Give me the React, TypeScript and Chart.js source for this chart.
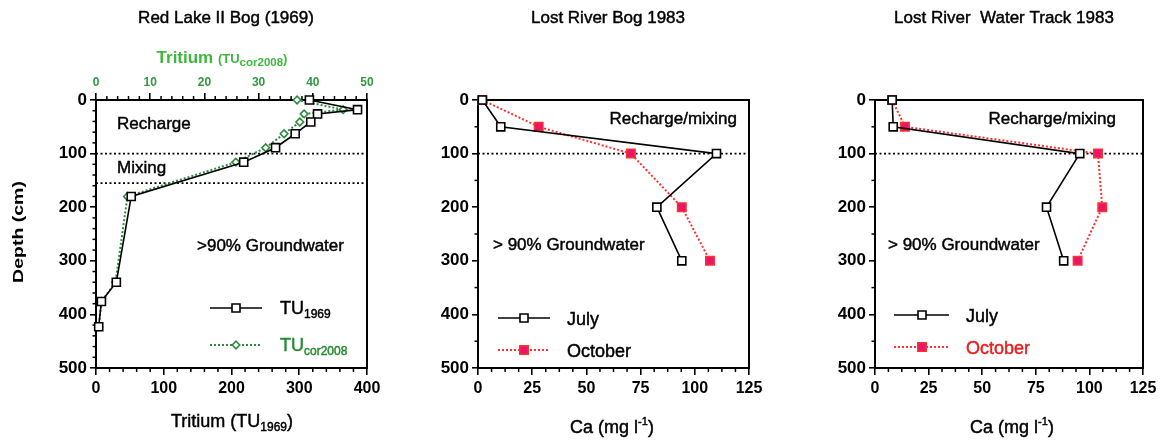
import React, { useEffect, useRef } from 'react';
import { Chart, registerables } from 'chart.js';
Chart.register(...registerables);

const FONT = '"Liberation Sans", Arial, Helvetica, sans-serif';

// ---------- Data ----------
// Panel 1: Red Lake II Bog (1969)
const redLakeDepth = [0, 18, 26, 41, 63, 89, 116, 180, 340, 376, 423];
const redLakeTU1969 = [315, 386, 327, 317, 294, 265, 218, 52, 30, 8, 4];
const redLakeTUcor2008 = [37.1, 45.6, 38.4, 37.6, 34.7, 31.3, 25.8, 5.8, 3.6, 1.0, 0.5];

// Panels 2 and 3: Ca profiles
const caDepth = [0, 50, 100, 200, 300];
const lostRiverBogJuly = [2, 10.5, 110, 82.5, 94];
const lostRiverBogOctober = [2, 28, 70.5, 94, 107];
const waterTrackJuly = [8, 8.5, 95.5, 80, 88];
const waterTrackOctober = [8, 14, 104, 106, 94.5];

// Tick settings
const depthTicks = [0, 100, 200, 300, 400, 500];
const tritiumTicks = [0, 100, 200, 300, 400];
const tritiumCorTicks = [0, 10, 20, 30, 40, 50];
const caTicks = [0, 25, 50, 75, 100, 125];

// ---------- Styles ----------
const BLACK = '#000000';
const GREEN_LINE = '#2e8b3e';
const GREEN_TITLE = '#3db83d';
const GREEN_TICK = '#2f9a3f';
const RED_LINE = '#ff3030';
const RED_FILL = '#e8156b';
const RED_TEXT = '#e8201e';

type Part = { t: string; size: number; bold?: boolean; color?: string; dy?: number };

function drawRich(ctx: CanvasRenderingContext2D, x: number, y: number, parts: Part[], align: 'left' | 'center' | 'right' = 'left') {
  ctx.save();
  ctx.textBaseline = 'alphabetic';
  ctx.textAlign = 'left';
  let total = 0;
  const widths = parts.map((p) => {
    ctx.font = `${p.bold ? 'bold ' : ''}${p.size}px ${FONT}`;
    const w = ctx.measureText(p.t).width;
    total += w;
    return w;
  });
  let cx = align === 'left' ? x : align === 'center' ? x - total / 2 : x - total;
  parts.forEach((p, i) => {
    ctx.font = `${p.bold ? 'bold ' : ''}${p.size}px ${FONT}`;
    ctx.fillStyle = p.color || BLACK;
    ctx.fillText(p.t, cx, y + (p.dy || 0));
    if (!p.bold) {
      // slight emboldening to mimic the medium-weight lettering of the original
      ctx.strokeStyle = p.color || BLACK;
      ctx.lineWidth = 0.45;
      ctx.strokeText(p.t, cx, y + (p.dy || 0));
    }
    cx += widths[i];
  });
  ctx.restore();
}

type Marker = { style: 'square' | 'diamond'; size: number; fill: string; stroke: string; lw: number };
type LegendItem = {
  x1: number; x2: number; y: number; xm: number;
  color: string; width: number; dash: number[];
  marker: Marker; text: Part[]; tx: number; ty: number;
};
type TextItem = { x: number; y: number; parts: Part[]; align?: 'left' | 'center' | 'right' };
type MinorSpec = { id: string; step: number; major: number; side: 'bottom' | 'top' | 'left' };

type Decor = {
  minor: MinorSpec[];
  hlines: number[];
  texts: TextItem[];
  legend: LegendItem[];
  yTitle?: { x: number; y: number; text: string };
};

function drawMarker(ctx: CanvasRenderingContext2D, x: number, y: number, m: Marker) {
  ctx.save();
  ctx.beginPath();
  const h = m.size / 2;
  if (m.style === 'square') {
    ctx.rect(x - h, y - h, m.size, m.size);
  } else {
    ctx.moveTo(x, y - h);
    ctx.lineTo(x + h, y);
    ctx.lineTo(x, y + h);
    ctx.lineTo(x - h, y);
    ctx.closePath();
  }
  ctx.fillStyle = m.fill;
  ctx.fill();
  ctx.lineWidth = m.lw;
  ctx.strokeStyle = m.stroke;
  ctx.stroke();
  ctx.restore();
}

function makeDecor(d: Decor) {
  return {
    id: 'decor',
    beforeDatasetsDraw(chart: any) {
      const ctx: CanvasRenderingContext2D = chart.ctx;
      const a = chart.chartArea;
      ctx.save();
      // dotted horizontal boundaries
      ctx.strokeStyle = BLACK;
      ctx.lineWidth = 1.6;
      ctx.setLineDash([2, 2.5]);
      d.hlines.forEach((v) => {
        const py = chart.scales.y.getPixelForValue(v);
        ctx.beginPath();
        ctx.moveTo(a.left, py);
        ctx.lineTo(a.right, py);
        ctx.stroke();
      });
      ctx.setLineDash([]);
      // minor ticks
      ctx.lineWidth = 1.5;
      d.minor.forEach((m) => {
        const s = chart.scales[m.id];
        for (let v = s.min; v <= s.max + 1e-9; v += m.step) {
          const r = v / m.major;
          if (Math.abs(r - Math.round(r)) < 1e-6) continue;
          const p = s.getPixelForValue(v);
          ctx.beginPath();
          if (m.side === 'bottom') { ctx.moveTo(p, a.bottom); ctx.lineTo(p, a.bottom + 4); }
          else if (m.side === 'top') { ctx.moveTo(p, a.top); ctx.lineTo(p, a.top - 4); }
          else { ctx.moveTo(a.left, p); ctx.lineTo(a.left - 3.5, p); }
          ctx.stroke();
        }
      });
      // frame
      ctx.lineWidth = 2;
      ctx.strokeRect(a.left, a.top, a.right - a.left, a.bottom - a.top);
      ctx.restore();
    },
    afterDraw(chart: any) {
      const ctx: CanvasRenderingContext2D = chart.ctx;
      d.texts.forEach((t) => drawRich(ctx, t.x, t.y, t.parts, t.align || 'left'));
      d.legend.forEach((l) => {
        ctx.save();
        ctx.strokeStyle = l.color;
        ctx.lineWidth = l.width;
        ctx.setLineDash(l.dash);
        ctx.beginPath();
        ctx.moveTo(l.x1, l.y);
        ctx.lineTo(l.x2, l.y);
        ctx.stroke();
        ctx.restore();
        drawMarker(ctx, l.xm, l.y, l.marker);
        drawRich(ctx, l.tx, l.ty, l.text, 'left');
      });
      if (d.yTitle) {
        ctx.save();
        ctx.translate(d.yTitle.x, d.yTitle.y);
        ctx.rotate(-Math.PI / 2);
        ctx.scale(1.3, 1);
        ctx.font = `bold 15px ${FONT}`;
        ctx.fillStyle = BLACK;
        ctx.textAlign = 'center';
        ctx.textBaseline = 'middle';
        ctx.fillText(d.yTitle.text, 0, 0);
        ctx.restore();
      }
    },
  };
}

const SQUARE_OPEN: Marker = { style: 'square', size: 8, fill: '#ffffff', stroke: BLACK, lw: 1.6 };
const DIAMOND_OPEN: Marker = { style: 'diamond', size: 7.5, fill: '#ffffff', stroke: GREEN_LINE, lw: 1.6 };
const SQUARE_RED: Marker = { style: 'square', size: 8.5, fill: RED_FILL, stroke: RED_LINE, lw: 1.5 };

function pts(xs: number[], ys: number[]) {
  return xs.map((x, i) => ({ x, y: ys[i] }));
}

function blackSeries(label: string, xs: number[], ys: number[], extra: any = {}) {
  return {
    label,
    data: pts(xs, ys),
    showLine: true,
    borderColor: BLACK,
    borderWidth: 1.6,
    pointStyle: 'rect',
    pointRadius: 5.7,
    pointBackgroundColor: '#ffffff',
    pointBorderColor: BLACK,
    pointBorderWidth: 1.6,
    clip: false,
    ...extra,
  };
}

function redSeries(label: string, xs: number[], ys: number[]) {
  return {
    label,
    data: pts(xs, ys),
    showLine: true,
    borderColor: RED_LINE,
    borderWidth: 2,
    borderDash: [2, 2],
    pointStyle: 'rect',
    pointRadius: 6,
    pointBackgroundColor: RED_FILL,
    pointBorderColor: RED_LINE,
    pointBorderWidth: 1.5,
    clip: false,
  };
}

function yScale(width: number) {
  return {
    type: 'linear',
    position: 'left',
    reverse: true,
    min: 0,
    max: 500,
    afterBuildTicks: (s: any) => { s.ticks = depthTicks.map((v) => ({ value: v })); },
    ticks: { font: { family: FONT, size: 17, weight: 'bold' }, color: BLACK, padding: 3 },
    grid: { display: true, drawOnChartArea: false, color: BLACK, lineWidth: 1.6, tickLength: 6 },
    border: { display: false },
    afterFit: (s: any) => { s.width = width; },
  };
}

function xBottom(min: number, max: number, ticks: number[], height: number) {
  return {
    type: 'linear',
    position: 'bottom',
    min,
    max,
    afterBuildTicks: (s: any) => { s.ticks = ticks.map((v) => ({ value: v })); },
    ticks: { font: { family: FONT, size: 16, weight: 'bold' }, color: BLACK, padding: 4, maxRotation: 0 },
    grid: { display: true, drawOnChartArea: false, color: BLACK, lineWidth: 1.6, tickLength: 7 },
    border: { display: false },
    afterFit: (s: any) => { s.height = height; },
  };
}

const baseOptions = (scales: any, padding: any) => ({
  responsive: false,
  animation: false,
  devicePixelRatio: 1,
  layout: { padding },
  plugins: { legend: { display: false }, title: { display: false }, tooltip: { enabled: false } },
  elements: { line: { tension: 0 } },
  scales,
});

const H = 443;

function buildRedLake() {
  const decor: Decor = {
    minor: [
      { id: 'x', step: 20, major: 100, side: 'bottom' },
      { id: 'x2', step: 2, major: 10, side: 'top' },
      { id: 'y', step: 20, major: 100, side: 'left' },
    ],
    hlines: [100, 155],
    texts: [
      { x: 226, y: 23, align: 'center', parts: [{ t: 'Red Lake II Bog (1969)', size: 17 }] },
      { x: 222, y: 63, align: 'center', parts: [
        { t: 'Tritium ', size: 17, bold: true, color: GREEN_TITLE },
        { t: '(TU', size: 13, bold: true, color: GREEN_TITLE },
        { t: 'cor2008', size: 11.5, bold: true, color: GREEN_TITLE, dy: 3 },
        { t: ')', size: 13, bold: true, color: GREEN_TITLE },
      ] },
      { x: 117, y: 129, parts: [{ t: 'Recharge', size: 17 }] },
      { x: 117, y: 173, parts: [{ t: 'Mixing', size: 17 }] },
      { x: 197, y: 251, parts: [{ t: '>90% Groundwater', size: 17 }] },
      { x: 232, y: 427, align: 'center', parts: [
        { t: 'Tritium (TU', size: 18 },
        { t: '1969', size: 12, dy: 4 },
        { t: ')', size: 18 },
      ] },
    ],
    legend: [
      { x1: 210, x2: 262, y: 308, xm: 236, color: BLACK, width: 1.6, dash: [], marker: SQUARE_OPEN,
        tx: 280, ty: 314, text: [{ t: 'TU', size: 18 }, { t: '1969', size: 12, dy: 4 }] },
      { x1: 210, x2: 262, y: 345, xm: 236, color: GREEN_LINE, width: 2, dash: [2, 2], marker: DIAMOND_OPEN,
        tx: 280, ty: 351, text: [{ t: 'TU', size: 18, color: '#238b2f' }, { t: 'cor2008', size: 12, dy: 4, color: '#238b2f' }] },
    ],
    yTitle: { x: 19, y: 232, text: 'Depth (cm)' },
  };
  return {
    type: 'scatter',
    data: {
      datasets: [
        blackSeries('TU1969', redLakeTU1969, redLakeDepth, { xAxisID: 'x' }),
        {
          label: 'TUcor2008',
          data: pts(redLakeTUcor2008, redLakeDepth),
          xAxisID: 'x2',
          showLine: true,
          borderColor: GREEN_LINE,
          borderWidth: 2,
          borderDash: [2, 2],
          pointStyle: 'rectRot',
          pointRadius: 3.8,
          pointBackgroundColor: '#ffffff',
          pointBorderColor: GREEN_LINE,
          pointBorderWidth: 1.6,
          clip: false,
        },
      ],
    },
    options: baseOptions(
      {
        x: xBottom(0, 400, tritiumTicks, H - 368),
        x2: {
          type: 'linear',
          position: 'top',
          min: 0,
          max: 50,
          afterBuildTicks: (s: any) => { s.ticks = tritiumCorTicks.map((v) => ({ value: v })); },
          ticks: { font: { family: FONT, size: 12, weight: 'bold' }, color: GREEN_TICK, padding: 3, maxRotation: 0 },
          grid: { display: true, drawOnChartArea: false, color: BLACK, lineWidth: 1.6, tickLength: 7 },
          border: { display: false },
          afterFit: (s: any) => { s.height = 100; },
        },
        y: yScale(96),
      },
      { left: 0, right: 23, top: 0, bottom: 0 }
    ),
    plugins: [makeDecor(decor)],
  };
}

function buildCa(opts: {
  title: string; titleX: number; axisLeft: number; padRight: number;
  july: number[]; october: number[];
  rechargeRight: number; gwLeft: number;
  legX1: number; legX2: number; legXm: number; legTx: number;
  julyY: number; octY: number; octColor: string; xTitleX: number;
}) {
  const decor: Decor = {
    minor: [
      { id: 'x', step: 6.25, major: 25, side: 'bottom' },
      { id: 'y', step: 50, major: 100, side: 'left' },
    ],
    hlines: [100],
    texts: [
      { x: opts.titleX, y: 23, align: 'center', parts: [{ t: opts.title, size: 17 }] },
      { x: opts.rechargeRight, y: 124, align: 'right', parts: [{ t: 'Recharge/mixing', size: 17 }] },
      { x: opts.gwLeft, y: 250, parts: [{ t: '> 90% Groundwater', size: 17 }] },
      { x: opts.xTitleX, y: 433, align: 'center', parts: [
        { t: 'Ca (mg l', size: 18 },
        { t: '-1', size: 11, dy: -8 },
        { t: ')', size: 18 },
      ] },
    ],
    legend: [
      { x1: opts.legX1, x2: opts.legX2, y: opts.julyY, xm: opts.legXm, color: BLACK, width: 1.6, dash: [], marker: SQUARE_OPEN,
        tx: opts.legTx, ty: opts.julyY + 7, text: [{ t: 'July', size: 18 }] },
      { x1: opts.legX1, x2: opts.legX2, y: opts.octY, xm: opts.legXm, color: RED_LINE, width: 2, dash: [2, 2], marker: SQUARE_RED,
        tx: opts.legTx, ty: opts.octY + 7, text: [{ t: 'October', size: 18, color: opts.octColor }] },
    ],
  };
  return {
    type: 'scatter',
    data: {
      datasets: [
        blackSeries('July', opts.july, caDepth),
        redSeries('October', opts.october, caDepth),
      ],
    },
    options: baseOptions(
      {
        x: xBottom(0, 125, caTicks, H - 368),
        y: yScale(opts.axisLeft),
      },
      { left: 0, right: opts.padRight, top: 100, bottom: 0 }
    ),
    plugins: [makeDecor(decor)],
  };
}

const panels = [
  { left: 0, width: 390, build: buildRedLake },
  {
    left: 390, width: 390,
    build: () => buildCa({
      title: 'Lost River Bog 1983', titleX: 218, axisLeft: 88, padRight: 31,
      july: lostRiverBogJuly, october: lostRiverBogOctober,
      rechargeRight: 347, gwLeft: 103,
      legX1: 108, legX2: 160, legXm: 134, legTx: 177,
      julyY: 318, octY: 350, octColor: BLACK, xTitleX: 222,
    }),
  },
  {
    left: 780, width: 386,
    build: () => buildCa({
      title: 'Lost River  Water Track 1983', titleX: 224, axisLeft: 95, padRight: 23,
      july: waterTrackJuly, october: waterTrackOctober,
      rechargeRight: 336, gwLeft: 108,
      legX1: 114, legX2: 169, legXm: 142, legTx: 186,
      julyY: 315, octY: 347, octColor: RED_TEXT, xTitleX: 232,
    }),
  },
];

function Panel({ left, width, build }: { left: number; width: number; build: () => any }) {
  const ref = useRef<HTMLCanvasElement>(null);
  useEffect(() => {
    const chart = new Chart(ref.current as HTMLCanvasElement, build() as any);
    return () => chart.destroy();
  }, []);
  return (
    <canvas
      ref={ref}
      width={width}
      height={H}
      style={{ position: 'absolute', left, top: 0, width, height: H, display: 'block' }}
    />
  );
}

export default function App() {
  return (
    <div style={{ position: 'fixed', left: 0, top: 0, width: 1166, height: H, background: '#ffffff' }}>
      {panels.map((p, i) => (
        <Panel key={i} left={p.left} width={p.width} build={p.build} />
      ))}
    </div>
  );
}
